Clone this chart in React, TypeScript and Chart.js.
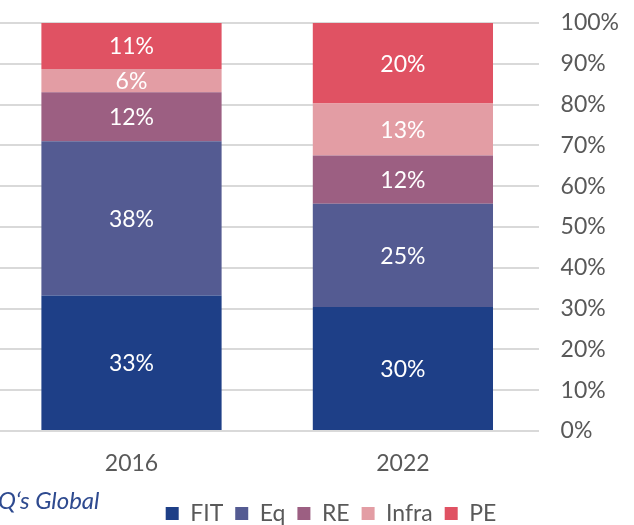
import React, { useEffect, useRef } from 'react';
import { Chart, registerables } from 'chart.js';

Chart.register(...registerables);

const categories = ['2016', '2022'];
const seriesNames = ['FIT', 'Eq', 'RE', 'Infra', 'PE'];
const fitValues = [33.2, 30.4];
const eqValues = [37.8, 25.3];
const reValues = [12.0, 11.8];
const infraValues = [5.7, 12.8];
const peValues = [11.3, 19.7];
const seriesColors = ['#1E3F87', '#545B92', '#9C5F82', '#E39DA4', '#E05263'];
const yTicks = [0, 10, 20, 30, 40, 50, 60, 70, 80, 90, 100];

const seriesValues = [fitValues, eqValues, reValues, infraValues, peValues];

const barLabels = {
  id: 'barLabels',
  afterDatasetsDraw(chart: any) {
    const ctx = chart.ctx;
    ctx.save();
    ctx.font = '23px Lato';
    ctx.fillStyle = '#ffffff';
    ctx.textAlign = 'center';
    ctx.textBaseline = 'middle';
    chart.data.datasets.forEach((ds: any, i: number) => {
      const meta = chart.getDatasetMeta(i);
      meta.data.forEach((bar: any, j: number) => {
        const p = bar.getProps(['x', 'y', 'base'], true);
        ctx.fillText(Math.round(ds.data[j]) + '%', p.x, (p.y + p.base) / 2 + 1);
      });
    });
    ctx.restore();
  },
};

export default function App() {
  const ref = useRef<HTMLCanvasElement | null>(null);

  useEffect(() => {
    document.body.style.margin = '0';
    Chart.defaults.font.family = 'Lato';
    const chart = new Chart(ref.current as HTMLCanvasElement, {
      type: 'bar',
      data: {
        labels: categories,
        datasets: seriesNames.map((name, i) => ({
          label: name,
          data: seriesValues[i],
          backgroundColor: seriesColors[i],
          borderWidth: 0,
          barPercentage: 0.664,
          categoryPercentage: 1,
        })),
      },
      options: {
        animation: false,
        responsive: true,
        maintainAspectRatio: false,
        layout: { padding: { left: 25.8, right: 63.8, top: 23, bottom: 0 } },
        plugins: {
          tooltip: { enabled: false },
          legend: {
            position: 'bottom',
            labels: {
              color: '#595959',
              font: { size: 23, family: 'Lato' },
              boxWidth: 13,
              boxHeight: 13,
              padding: 12,
            },
          },
        },
        scales: {
          x: {
            stacked: true,
            grid: { display: false },
            border: { display: false },
            ticks: { color: '#595959', font: { size: 23, family: 'Lato' }, padding: 11 },
            afterFit(scale: any) {
              scale.height = 59;
            },
          },
          y: {
            stacked: true,
            position: 'right',
            min: 0,
            max: 100,
            afterBuildTicks(scale: any) {
              scale.ticks = yTicks.map((v) => ({ value: v }));
            },
            grid: { color: '#D9D9D9', lineWidth: 2, drawTicks: false },
            border: { display: false },
            ticks: {
              color: '#595959',
              font: { size: 23, family: 'Lato' },
              padding: 22,
              callback: (v: any) => v + '%',
            },
            afterFit(scale: any) {
              scale.width = 127.6;
              scale.paddingTop = 0;
              scale.paddingBottom = 0;
            },
          },
        },
      },
      plugins: [barLabels],
    });
    return () => chart.destroy();
  }, []);

  return (
    <div style={{ position: 'fixed', left: 0, top: 0, width: 634, height: 525, overflow: 'hidden', background: '#fff' }}>
      <div style={{ position: 'absolute', left: -30, top: 0, width: 760, height: 535 }}>
        <canvas ref={ref} />
      </div>
      <div
        style={{
          position: 'absolute',
          left: -2,
          top: 485,
          fontFamily: 'Lato',
          fontStyle: 'italic',
          fontSize: 24,
          color: '#2E4A8F',
          whiteSpace: 'nowrap',
        }}
      >
        Q‘s Global
      </div>
    </div>
  );
}
